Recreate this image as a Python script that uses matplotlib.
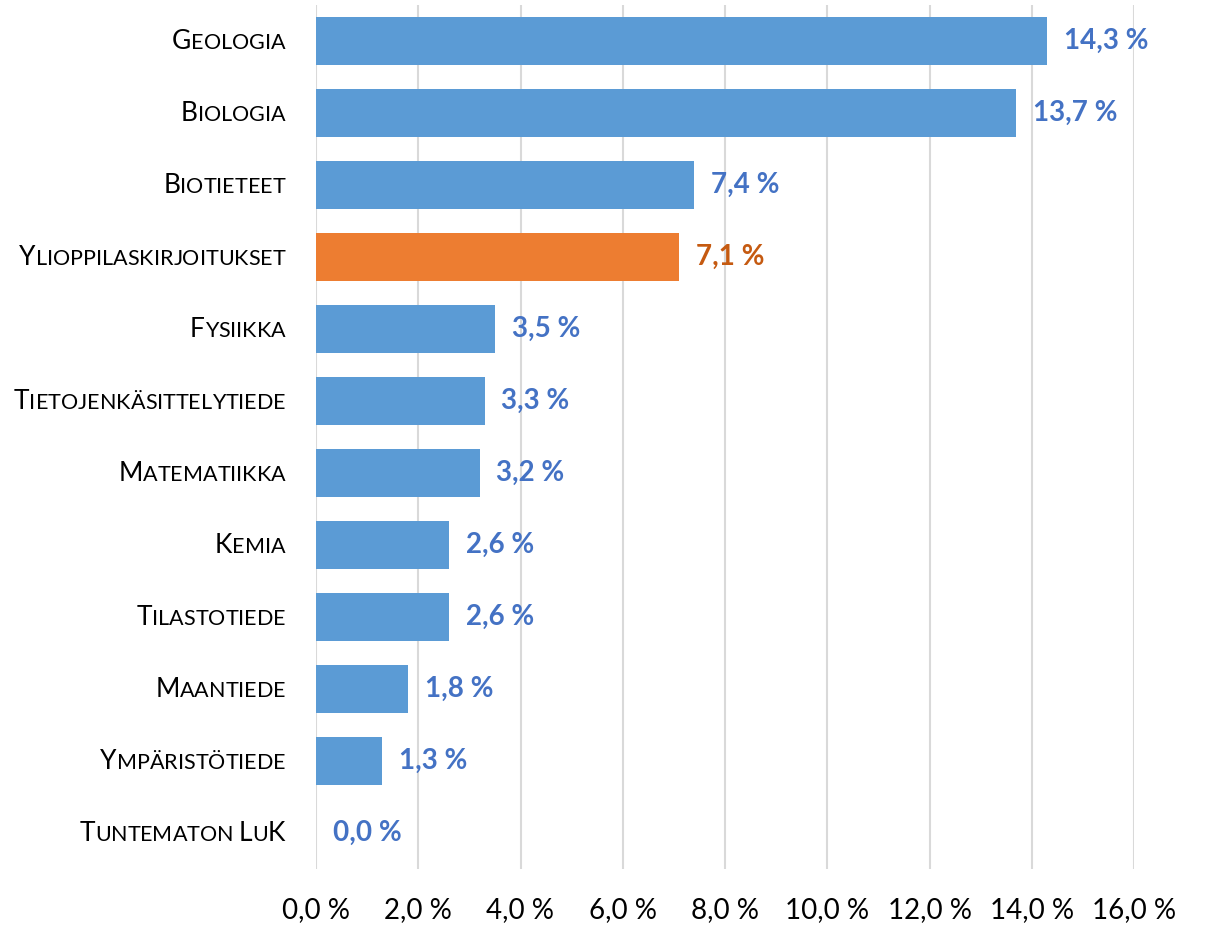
import matplotlib
matplotlib.use("Agg")
import matplotlib.pyplot as plt
from matplotlib.offsetbox import TextArea, HPacker, AnnotationBbox

plt.rcParams["font.family"] = ["Lato", "DejaVu Sans"]

subjects = ["Geologia", "Biologia", "Biotieteet", "Ylioppilaskirjoitukset", "Fysiikka",
            "Tietojenkäsittelytiede", "Matematiikka", "Kemia", "Tilastotiede",
            "Maantiede", "Ympäristötiede", "Tuntematon LuK"]
shares = [14.3, 13.7, 7.4, 7.1, 3.5, 3.3, 3.2, 2.6, 2.6, 1.8, 1.3, 0.0]
highlight = "Ylioppilaskirjoitukset"
xticks = [0, 2, 4, 6, 8, 10, 12, 14, 16]

BAR_BLUE = "#5B9BD5"
BAR_ORANGE = "#ED7D31"
TXT_BLUE = "#4472C4"
TXT_ORANGE = "#C55A11"


def pct(v):
    return f"{v:.1f} %".replace(".", ",")


def small_caps(label, big=19, small=15.5):
    # fake small caps: capitals stay big, lowercase turns into smaller capitals
    parts = []
    for ch in label:
        if ch.isupper() or not ch.isalpha():
            size = big if ch != " " else small
        else:
            size = small
        parts.append(TextArea(ch.upper(), textprops=dict(fontsize=size, color="black")))
    return HPacker(children=parts, align="baseline", pad=0, sep=0)


fig = plt.figure(figsize=(12.08, 9.25), dpi=100)
ax = fig.add_axes([316 / 1208, 1 - 869 / 925, (1134 - 316) / 1208, (869 - 5) / 925])

ypos = list(range(len(subjects)))
colors = [BAR_ORANGE if s == highlight else BAR_BLUE for s in subjects]
ax.barh(ypos, shares, height=0.667, color=colors, zorder=2)

for y, v, s in zip(ypos, shares, subjects):
    c = TXT_ORANGE if s == highlight else TXT_BLUE
    ax.annotate(pct(v), xy=(v, y), xytext=(12, 0), textcoords="offset points",
                va="center", ha="left", fontsize=20, fontweight="bold", color=c)
    box = small_caps(s)
    ab = AnnotationBbox(box, (0, y), xybox=(-22, 0), xycoords="data",
                        boxcoords="offset points", box_alignment=(1, 0.5),
                        frameon=False, pad=0)
    ax.add_artist(ab)

ax.set_xlim(0, 16)
ax.set_ylim(len(subjects) - 0.5, -0.5)
ax.set_xticks(xticks)
ax.set_xticklabels([pct(t) for t in xticks], fontsize=20)
ax.set_yticks([])
ax.tick_params(axis="x", length=0, pad=20)
ax.grid(axis="x", color="#D9D9D9", linewidth=1.5, zorder=0)
ax.set_axisbelow(True)
for sp in ax.spines.values():
    sp.set_visible(False)

fig.savefig("out.png", dpi=100)
